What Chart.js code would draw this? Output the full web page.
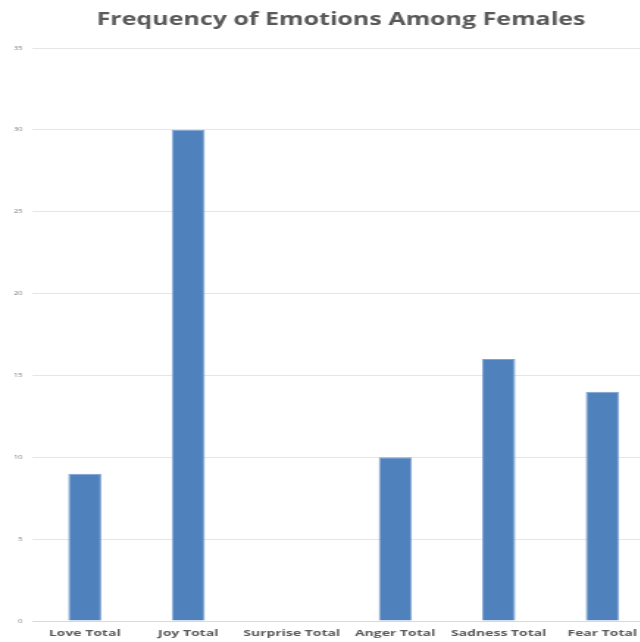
<!DOCTYPE html>
<html>
<head>
<meta charset="utf-8">
<script src="https://cdn.jsdelivr.net/npm/chart.js@4.4.1/dist/chart.umd.min.js"></script>
<style>
  html, body { margin: 0; padding: 0; background: #ffffff; overflow: hidden; }
  /* the chart is drawn narrow and widened horizontally */
  #wrap {
    position: absolute; left: 0; top: 0;
    width: 464px; height: 642px;
    transform: scaleX(1.47);
    transform-origin: 0 0;
  }
</style>
</head>
<body>
<div id="wrap"><canvas id="chart"></canvas></div>
<script>
// Emotion categories and how often each was reported by female respondents
const categories = ['Love Total', 'Joy Total', 'Surprise Total', 'Anger Total', 'Sadness Total', 'Fear Total'];
const frequencies = [9, 30, 0, 10, 16, 14];
const yTicks = [0, 5, 10, 15, 20, 25, 30, 35];

const textGrey = '#595959';

new Chart(document.getElementById('chart'), {
  type: 'bar',
  data: {
    labels: categories,
    datasets: [{
      label: 'Frequency',
      data: frequencies,
      backgroundColor: '#4f81bd',
      borderColor: '#7ea3d1',
      borderWidth: 1,
      barPercentage: 0.32,
      categoryPercentage: 1.0
    }]
  },
  options: {
    responsive: true,
    maintainAspectRatio: false,
    animation: false,
    layout: { padding: 0 },
    plugins: {
      legend: { display: false },
      tooltip: { enabled: false },
      title: {
        display: true,
        text: 'Frequency of Emotions Among Females',
        color: textGrey,
        font: { family: 'Open Sans', size: 17, weight: 'bold' },
        padding: { top: 10, bottom: 17.6 }
      }
    },
    scales: {
      x: {
        grid: { display: false, drawTicks: false },
        border: { display: true, color: '#d9d9d9', width: 1 },
        ticks: {
          color: textGrey,
          font: { family: 'Open Sans', size: 9.5, weight: 'bold' },
          padding: 7,
          maxRotation: 0,
          autoSkip: false
        },
        afterFit: (s) => { s.height = 21; }
      },
      y: {
        min: 0,
        max: 35,
        afterBuildTicks: (s) => { s.ticks = yTicks.map(v => ({ value: v })); },
        grid: { color: '#e6e6e6', drawTicks: false },
        border: { display: false },
        ticks: {
          color: '#7f7f7f',
          font: { family: 'Open Sans', size: 5.5 },
          padding: 7
        },
        afterFit: (s) => { s.width = 22.45; }
      },
      yRight: {
        position: 'right',
        display: true,
        grid: { display: false },
        border: { display: false },
        ticks: { display: false },
        afterFit: (s) => { s.width = 19.1; }
      }
    }
  }
});
</script>
</body>
</html>
